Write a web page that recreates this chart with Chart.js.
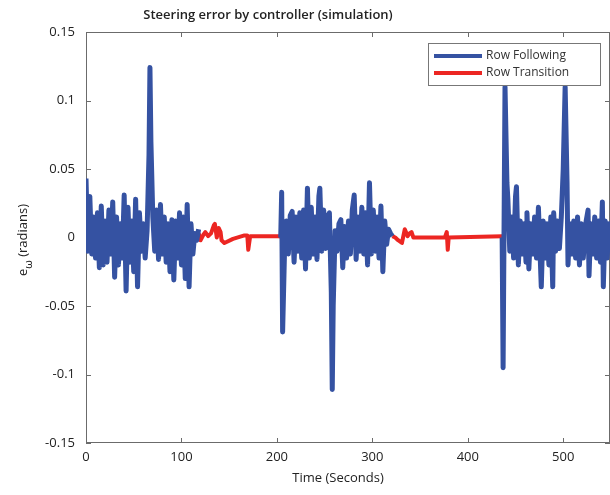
<!DOCTYPE html>
<html>
<head>
<meta charset="utf-8">
<script src="https://cdn.jsdelivr.net/npm/chart.js@4.4.0/dist/chart.umd.min.js"></script>
<style>
  body { margin: 0; background: #fff; }
  canvas { display: block; }
</style>
</head>
<body>
<canvas id="steeringChart" width="610" height="495"></canvas>
<script>
// row following, first stretch
const followTime1 = [0, 2, 4, 6, 8, 10, 12, 14, 16, 18, 20, 22, 24, 26, 28, 30, 32, 34, 36, 38,
  40, 42, 44, 46, 48, 50, 52, 54, 56, 58, 60, 62, 64, 66, 67, 68, 70, 72, 74, 76, 78,
  80, 82, 84, 86, 88, 90, 92, 94, 96, 98, 100, 102, 104, 106, 108, 110, 112, 114, 116, 118];
const followErr1 = [0.043, -0.010, 0.030, -0.012, 0.015, -0.015, 0.018, -0.022, 0.023, -0.020,
  0.012, -0.018, 0.020, -0.012, 0.026, -0.029, 0.015, -0.020, 0.010, -0.015,
  0.031, -0.039, 0.022, -0.018, 0.012, -0.025, 0.028, -0.036, 0.018, -0.010,
  0.010, -0.015, 0.005, 0.060, 0.124, 0.070, 0.015, -0.010, 0.020, -0.016, 0.024,
  -0.012, 0.015, -0.018, 0.010, -0.025, 0.013, -0.031, 0.012, -0.015, 0.018,
  -0.020, 0.015, -0.030, 0.024, -0.036, 0.010, -0.012, 0.003, -0.002, 0.006];

// row following, second stretch
const followTime2 = [204, 205, 206, 208, 210, 212, 214, 216, 218, 220, 222, 224, 226, 228, 230,
  232, 234, 236, 238, 240, 242, 244, 245, 247, 249, 251, 253, 255, 257, 258, 259, 261,
  263, 265, 267, 269, 271, 273, 275, 277, 279, 281, 283, 285, 287, 289, 291, 293, 295,
  297, 299, 301, 303, 305, 307, 309, 311, 313, 315, 317, 319, 321];
const followErr2 = [0.000, 0.033, -0.069, -0.010, 0.012, -0.012, 0.016, 0.019, -0.018, 0.015,
  -0.010, 0.018, -0.015, 0.020, -0.023, 0.036, -0.015, 0.022, -0.012, 0.015, -0.016,
  0.030, 0.036, -0.010, 0.020, -0.008, 0.015, 0.018, -0.040, -0.111, -0.050, 0.005,
  -0.010, 0.010, 0.013, -0.022, 0.008, -0.015, 0.012, -0.012, 0.020, 0.031, -0.016,
  0.015, -0.010, 0.022, -0.012, 0.018, -0.020, 0.040, -0.012, 0.020, -0.010, 0.015,
  -0.015, 0.023, -0.025, 0.012, -0.005, 0.006, 0.003, 0.001];

// row following, third stretch
const followTime3 = [436, 437, 439, 441, 442, 444, 446, 448, 450, 451, 453, 455, 457, 459, 461,
  462, 464, 466, 468, 470, 472, 474, 477, 479, 481, 483, 485, 487, 489, 490, 492, 494,
  496, 498, 500, 502, 504, 505, 507, 509, 511, 513, 515, 517, 519, 521, 524, 526, 527,
  529, 531, 533, 535, 537, 539, 541, 542, 544, 546, 548, 550];
const followErr3 = [0.000, -0.095, 0.110, 0.040, 0.028, -0.010, 0.015, -0.015, 0.030, 0.037,
  -0.020, 0.012, -0.012, 0.010, -0.018, 0.018, -0.023, 0.010, -0.012, 0.015, -0.015,
  0.022, -0.036, 0.012, -0.015, 0.010, -0.020, 0.015, -0.036, 0.018, -0.010, 0.012,
  -0.008, 0.015, 0.050, 0.110, 0.040, -0.020, 0.010, -0.012, 0.012, -0.015, 0.015,
  -0.020, 0.010, -0.015, 0.012, 0.020, -0.028, 0.010, -0.012, 0.015, -0.015, 0.012,
  -0.018, 0.026, -0.036, 0.012, -0.015, 0.010, -0.010];

// row transitions
const transTime1 = [118, 120, 123, 125, 128, 131, 134, 135, 137, 139, 141, 142, 145, 154, 166, 169, 170, 172, 203, 204];
const transErr1 = [0.003, -0.002, 0.002, 0.004, 0.001, 0.003, 0.009, 0.010, 0.000, 0.007, 0.004, -0.002, -0.004, -0.001, 0.0015, 0.0015, -0.009, 0.001, 0.001, 0.000];
const transTime2 = [321, 324, 327, 331, 334, 337, 339, 341, 343, 376, 378, 379, 380, 436];
const transErr2 = [0.001, 0.000, -0.002, -0.004, 0.006, 0.001, 0.003, 0.004, 0.000, 0.000, 0.004, -0.009, 0.000, 0.001];

const xTickLabels = ["0", "100", "200", "300", "400", "500"];
const yTickLabels = ["-0.15", "-0.1", "-0.05", "0", "0.05", "0.1", "0.15"];

function toPoints(segments) {
  const pts = [];
  segments.forEach(function (seg, i) {
    if (i > 0) pts.push({ x: seg[0][0], y: null });
    seg[0].forEach(function (t, j) {
      pts.push({ x: t, y: seg[1][j] });
    });
  });
  return pts;
}

const FONT = "'Open Sans', 'Noto Sans', sans-serif";
const BLUE = "#3552a2";
const RED = "#ec2622";

const framePlugin = {
  id: "frame",
  beforeDatasetsDraw(chart) {
    const ctx = chart.ctx;
    const a = chart.chartArea;
    const xs = chart.scales.x;
    const ys = chart.scales.y;
    ctx.save();
    ctx.strokeStyle = "#6b6b6b";
    ctx.lineWidth = 1;
    ctx.strokeRect(a.left + 0.5, a.top + 0.5, a.right - a.left - 1, a.bottom - a.top - 1);
    ctx.beginPath();
    xs.ticks.forEach(function (t) {
      const px = Math.round(xs.getPixelForValue(t.value)) + 0.5;
      ctx.moveTo(px, a.bottom); ctx.lineTo(px, a.bottom - 5);
      ctx.moveTo(px, a.top); ctx.lineTo(px, a.top + 5);
    });
    ys.ticks.forEach(function (t) {
      const py = Math.round(ys.getPixelForValue(t.value)) + 0.5;
      ctx.moveTo(a.left, py); ctx.lineTo(a.left + 5, py);
      ctx.moveTo(a.right, py); ctx.lineTo(a.right - 5, py);
    });
    ctx.stroke();
    ctx.restore();
  },
  afterDraw(chart) {
    const ctx = chart.ctx;
    ctx.save();
    ctx.fillStyle = "#222";
    // title
    ctx.font = "600 13px " + FONT;
    ctx.textAlign = "center";
    ctx.textBaseline = "middle";
    ctx.fillText("Steering error by controller (simulation)", 268, 15);
    // x title
    ctx.font = "13px " + FONT;
    ctx.fillText("Time (Seconds)", 338, 478);
    // y title with subscript
    ctx.translate(22, 240);
    ctx.rotate(-Math.PI / 2);
    ctx.textAlign = "left";
    ctx.textBaseline = "alphabetic";
    const w1 = ctx.measureText("e").width;
    ctx.font = "11px " + FONT;
    const w2 = ctx.measureText("\u03c9").width;
    ctx.font = "13px " + FONT;
    const w3 = ctx.measureText(" (radians)").width;
    let x0 = -(w1 + w2 + w3) / 2;
    ctx.fillText("e", x0, 5);
    ctx.font = "11px " + FONT;
    ctx.fillText("\u03c9", x0 + w1, 10);
    ctx.font = "13px " + FONT;
    ctx.fillText(" (radians)", x0 + w1 + w2, 5);
    ctx.restore();

    // legend box
    ctx.save();
    ctx.fillStyle = "#fff";
    ctx.strokeStyle = "#777";
    ctx.lineWidth = 1;
    ctx.fillRect(428, 43, 172, 42);
    ctx.strokeRect(428.5, 43.5, 172, 42);
    ctx.font = "12px " + FONT;
    ctx.textAlign = "left";
    ctx.textBaseline = "middle";
    chart.data.datasets.forEach(function (ds, i) {
      const y = 56 + i * 17;
      ctx.strokeStyle = ds.borderColor;
      ctx.lineWidth = 4;
      ctx.beginPath();
      ctx.moveTo(434, y);
      ctx.lineTo(482, y);
      ctx.stroke();
      ctx.fillStyle = "#333";
      ctx.fillText(ds.label, 486, y);
    });
    ctx.restore();
  },
};

const config = {
  type: "line",
  data: {
    datasets: [
      {
        label: "Row Following",
        data: toPoints([[followTime1, followErr1], [followTime2, followErr2], [followTime3, followErr3]]),
        borderColor: BLUE,
        borderWidth: 5,
        borderJoinStyle: "round",
        pointRadius: 0,
        spanGaps: false,
        tension: 0,
      },
      {
        label: "Row Transition",
        data: toPoints([[transTime1, transErr1], [transTime2, transErr2]]),
        borderColor: RED,
        borderWidth: 4,
        borderJoinStyle: "round",
        pointRadius: 0,
        spanGaps: false,
        tension: 0,
      },
    ],
  },
  options: {
    responsive: false,
    animation: false,
    layout: { padding: { top: 32, left: 0, right: 0, bottom: 0 } },
    scales: {
      x: {
        type: "linear",
        min: 0,
        max: 549,
        grid: { display: false, drawTicks: false },
        border: { display: false },
        ticks: {
          stepSize: 100,
          includeBounds: false,
          padding: 6,
          color: "#222",
          font: { family: FONT, size: 13 },
          maxRotation: 0,
          callback: function (v, i) { return xTickLabels[i]; },
        },
        afterFit: function (s) { s.height = 52; },
      },
      y: {
        min: -0.15,
        max: 0.15,
        grid: { display: false, drawTicks: false },
        border: { display: false },
        ticks: {
          stepSize: 0.05,
          padding: 11,
          color: "#222",
          font: { family: FONT, size: 13 },
          callback: function (v, i) { return yTickLabels[i]; },
        },
        afterFit: function (s) { s.width = 86; },
      },
    },
    plugins: {
      legend: { display: false },
      tooltip: { enabled: false },
    },
  },
  plugins: [framePlugin],
};

new Chart(document.getElementById("steeringChart"), config);
</script>
</body>
</html>
